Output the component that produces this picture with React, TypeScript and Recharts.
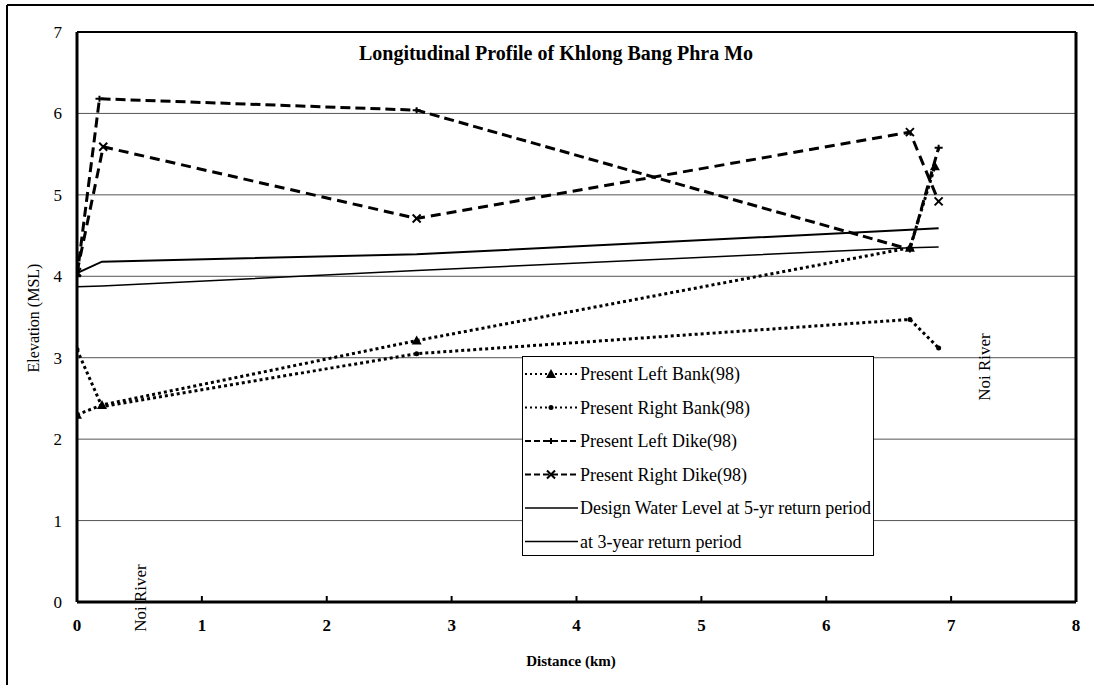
import { LineChart, Line, XAxis, YAxis, CartesianGrid, Legend, ReferenceLine } from 'recharts';

// distance (km) and elevation (m MSL)
const leftBankKm = [0, 0.2, 2.72, 6.67, 6.87];
const leftBankElev = [2.3, 2.42, 3.21, 4.35, 5.35];

const rightBankKm = [0, 0.2, 2.72, 6.67, 6.9];
const rightBankElev = [3.1, 2.4, 3.05, 3.47, 3.12];

const leftDikeKm = [0, 0.18, 2.72, 6.67, 6.9];
const leftDikeElev = [4.0, 6.18, 6.04, 4.33, 5.58];

const rightDikeKm = [0, 0.21, 2.72, 6.67, 6.9];
const rightDikeElev = [4.05, 5.59, 4.71, 5.77, 4.92];

const wl5Km = [0, 0.2, 2.72, 6.67, 6.9];
const wl5Elev = [4.04, 4.18, 4.27, 4.57, 4.59];

const wl3Km = [0, 0.2, 2.72, 6.67, 6.9];
const wl3Elev = [3.87, 3.88, 4.07, 4.35, 4.36];

const xTicks = [0, 1, 2, 3, 4, 5, 6, 7, 8];
const yTicks = [0, 1, 2, 3, 4, 5, 6, 7];

const toPoints = (xs: number[], ys: number[]) => xs.map((x, i) => ({ x, y: ys[i] }));

const FONT = '"Liberation Serif", "Times New Roman", serif';

type Marker = 'triangle' | 'dot' | 'plus' | 'cross' | 'none';

const drawMarker = (kind: Marker, cx: number, cy: number, key: string | number) => {
  if (kind === 'triangle')
    return <path key={key} d={`M${cx},${cy - 5}L${cx + 5},${cy + 4}L${cx - 5},${cy + 4}Z`} fill="#000" />;
  if (kind === 'dot') return <circle key={key} cx={cx} cy={cy} r={2.5} fill="#000" />;
  if (kind === 'plus')
    return (
      <path key={key} d={`M${cx - 4},${cy}L${cx + 4},${cy}M${cx},${cy - 3}L${cx},${cy + 3}`} stroke="#000" strokeWidth={2} />
    );
  if (kind === 'cross')
    return (
      <path key={key} d={`M${cx - 4},${cy - 4}L${cx + 4},${cy + 4}M${cx - 4},${cy + 4}L${cx + 4},${cy - 4}`} stroke="#000" strokeWidth={2} />
    );
  return <g key={key} />;
};

const series = [
  { name: 'Present Left Bank(98)', data: toPoints(leftBankKm, leftBankElev), dash: '3 3', width: 3, marker: 'triangle' as Marker },
  { name: 'Present Right Bank(98)', data: toPoints(rightBankKm, rightBankElev), dash: '3 3', width: 3, marker: 'dot' as Marker },
  { name: 'Present Left Dike(98)', data: toPoints(leftDikeKm, leftDikeElev), dash: '10 5', width: 3, marker: 'plus' as Marker },
  { name: 'Present Right Dike(98)', data: toPoints(rightDikeKm, rightDikeElev), dash: '10 6', width: 3, marker: 'cross' as Marker },
  { name: 'Design Water Level at 5-yr return period', data: toPoints(wl5Km, wl5Elev), dash: undefined, width: 2, marker: 'none' as Marker },
  { name: 'at 3-year return period', data: toPoints(wl3Km, wl3Elev), dash: undefined, width: 1.5, marker: 'none' as Marker },
];

const XTick = (props: any) => {
  const { x, y, payload } = props;
  return (
    <g>
      <line x1={x} x2={x} y1={y} y2={y - 6} stroke="#000" strokeWidth={2} />
      <text x={x} y={y + 29} textAnchor="middle" fontFamily={FONT} fontSize={17} fontWeight="bold" fill="#000">
        {payload.value}
      </text>
    </g>
  );
};

const YTick = (props: any) => {
  const { y, payload } = props;
  return (
    <text x={62} y={y + 6} textAnchor="end" fontFamily={FONT} fontSize={17} fill="#000">
      {payload.value}
    </text>
  );
};

const LegendBox = () => (
  <svg width={350} height={198}>
    {series.map((s, i) => {
      const cy = 17 + i * 33.5;
      return (
        <g key={s.name}>
          <line x1={2} x2={55} y1={cy} y2={cy} stroke="#000" strokeWidth={s.dash ? 2 : 1.5} strokeDasharray={s.dash ? (s.dash.startsWith('3') ? '2 3' : '6 3') : undefined} />
          {drawMarker(s.marker, 28, cy, 'm')}
          <text x={57} y={cy + 6} fontFamily={FONT} fontSize={18} fill="#000" textLength={s.name.length > 30 ? 291 : undefined}>
            {s.name}
          </text>
        </g>
      );
    })}
  </svg>
);

export default function App() {
  return (
    <div style={{ position: 'absolute', left: 0, top: 0, width: 1094, height: 685, background: '#fff' }}>
      <LineChart width={1094} height={685} margin={{ top: 32, right: 18, bottom: 23, left: 0 }}>
        <line x1={7} x2={1094} y1={5} y2={5} stroke="#000" strokeWidth={2} />
        <line x1={7} x2={7} y1={5} y2={685} stroke="#000" strokeWidth={2} />
        <CartesianGrid vertical={false} stroke="#555" strokeWidth={1} />
        <XAxis
          type="number"
          dataKey="x"
          domain={[0, 8]}
          ticks={xTicks}
          allowDataOverflow
          height={60}
          axisLine={{ stroke: '#000', strokeWidth: 3 }}
          tickLine={false}
          tickSize={0}
          tickMargin={0}
          tick={<XTick />}
        />
        <YAxis
          type="number"
          domain={[0, 7]}
          ticks={yTicks}
          width={77}
          axisLine={{ stroke: '#000', strokeWidth: 3 }}
          tickLine={false}
          tick={<YTick />}
        />
        <ReferenceLine x={8} stroke="#000" strokeWidth={3} />
        <ReferenceLine y={7} stroke="#000" strokeWidth={2} />
        {series.map((s) => (
          <Line
            key={s.name}
            data={s.data}
            dataKey="y"
            name={s.name}
            type="linear"
            stroke="#000"
            strokeWidth={s.width}
            strokeDasharray={s.dash}
            dot={(p: any) => drawMarker(s.marker, p.cx, p.cy, `${s.name}-${p.index}`)}
            activeDot={false}
            isAnimationActive={false}
          />
        ))}
        <text x={556} y={60} textAnchor="middle" fontFamily={FONT} fontSize={20} fontWeight="bold" fill="#000">
          Longitudinal Profile of Khlong Bang Phra Mo
        </text>
        <text x={571} y={666} textAnchor="middle" fontFamily={FONT} fontSize={15} fontWeight="bold" fill="#000">
          Distance (km)
        </text>
        <text x={35} y={318} transform="rotate(-90 35 318)" dominantBaseline="middle" textAnchor="middle" fontFamily={FONT} fontSize={16} fill="#000">
          Elevation (MSL)
        </text>
        <text x={142} y={598} transform="rotate(-90 142 598)" dominantBaseline="middle" textAnchor="middle" fontFamily={FONT} fontSize={17} fill="#000">
          Noi River
        </text>
        <text x={986} y={367} transform="rotate(-90 986 367)" dominantBaseline="middle" textAnchor="middle" fontFamily={FONT} fontSize={17} fill="#000">
          Noi River
        </text>
        <Legend
          layout="vertical"
          align="center"
          verticalAlign="middle"
          content={<LegendBox />}
          wrapperStyle={{
            left: 522,
            top: 356,
            width: 352,
            height: 200,
            border: '1px solid #000',
            background: '#fff',
            boxSizing: 'border-box',
          }}
        />
      </LineChart>
    </div>
  );
}
